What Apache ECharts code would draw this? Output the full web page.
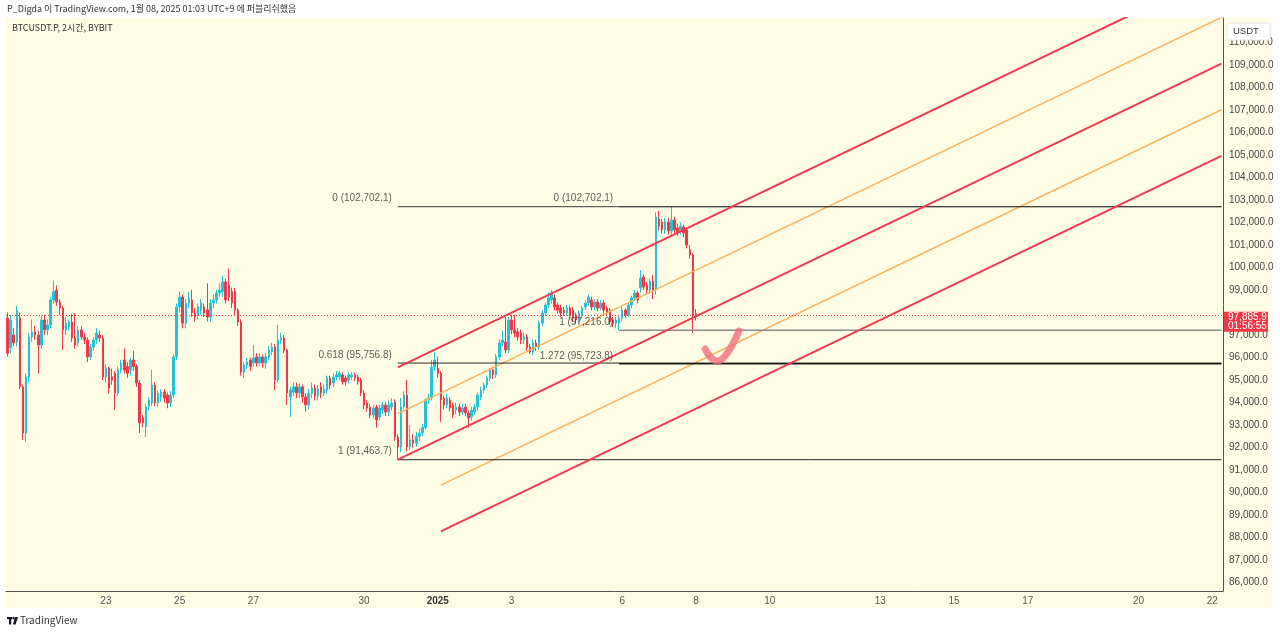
<!DOCTYPE html>
<html>
<head>
<meta charset="utf-8">
<script src="https://cdn.jsdelivr.net/npm/echarts@6/dist/echarts.min.js"></script>
<style>
html,body{margin:0;padding:0;background:#fff;}
#c{width:1280px;height:634px;}
</style>
</head>
<body>
<div id="c"></div>
<script>
// ---------- DATA ----------
// 2-hour slots (UTC+9 display), first slot 2024-12-20 08:00, 396 slots across the visible time axis
const slotStart = Date.UTC(2024, 11, 20, 8);
const slotCount = 396;
const categories = [];
for (let k = 0; k < slotCount; k++) {
  const d = new Date(slotStart + k * 7200000);
  const p = n => String(n).padStart(2, '0');
  categories.push(p(d.getUTCMonth() + 1) + '-' + p(d.getUTCDate()) + ' ' + p(d.getUTCHours()));
}

// time-axis tick labels
const xTickKeys  = ['12-23 00','12-25 00','12-27 00','12-30 00','01-01 00','01-03 00','01-06 00','01-08 00','01-10 00','01-13 00','01-15 00','01-17 00','01-20 00','01-22 00'];
const xTickTexts = ['23','25','27','30','2025','3','6','8','10','13','15','17','20','22'];

// price-axis tick labels (98,000 is hidden by the last-price tag)
const yTicks = [86000,87000,88000,89000,90000,91000,92000,93000,94000,95000,96000,97000,99000,100000,101000,102000,103000,104000,105000,106000,107000,108000,109000,110000];

// BTCUSDT.P 2h candles: [open, close, low, high]
const candles = [
[97760,96200,96050,98000],[96430,97670,96200,97890],[97000,96650,96500,97300],[96700,98100,96500,98300],
[97760,94700,94600,98000],[94700,92650,92340,94800],[92650,95140,92250,95300],[95140,96920,94900,97100],
[96920,97140,96700,97700],[97140,97000,96800,97400],[97000,96560,95300,97200],[96560,97670,96400,97900],
[97670,97230,97000,97900],[97230,97450,97000,97700],[97450,98560,97300,98700],[98560,98930,98400,99420],
[99000,98470,98300,99200],[98470,98200,97900,98600],[98200,97230,96340,98300],[97230,97530,97000,97800],
[97360,97580,97200,97700],[97580,96870,96700,97950],[96870,96560,96400,97980],[96650,97230,96500,97400],
[97230,96920,96800,97400],[96920,96780,96600,97100],[96780,96030,95800,96900],[96030,96470,95900,96600],
[96470,96780,96300,96900],[96780,97090,96600,97300],[97000,96870,96700,97200],[96870,95140,95000,97000],
[95140,95530,94900,95700],[95530,94650,94400,95600],[95140,95000,94800,95500],[95300,94420,93670,95400],
[94420,95450,94300,95600],[95450,95760,95300,95900],[95890,95450,95300,96400],[95600,95300,95100,95800],
[95450,95890,95200,96000],[95890,95600,95400,96300],[95600,94870,94700,95700],[94870,93100,92650,95000],
[93320,93100,92900,93450],[92920,93810,92470,93950],[93810,94120,93650,94250],[93980,94780,93850,95450],
[94780,93980,93850,94900],[93980,94420,93800,94550],[94250,94470,94050,94600],[94470,94200,94000,94600],
[94340,93980,93750,94450],[93980,94340,93800,94500],[94340,96030,94200,96150],[96030,98250,95900,98400],
[98250,98690,98000,98930],[98690,97530,97300,98800],[97530,98420,97300,98600],[98420,98640,98200,98900],
[98560,97980,97800,99000],[97980,97800,97600,98200],[97890,98250,97700,98400],[98110,98420,97900,98600],
[98250,97980,97800,98400],[98110,97800,97600,99300],[97800,98420,97580,98600],[98420,98560,98200,98800],
[98560,98870,98400,99000],[98870,99000,98700,99300],[98930,99360,98700,99650],[99360,98560,98400,99500],
[99220,98690,98500,99950],[98930,98420,98200,99100],[98930,98110,97900,99100],[98110,97580,97400,98200],
[97580,95360,95200,97700],[95360,95670,95090,95800],[95670,95800,95500,96000],[95890,95600,95400,96000],
[95760,95980,95600,96560],[96030,95760,95600,96200],[95760,96030,95600,96200],[96030,95760,95550,96150],
[95760,96030,95500,96200],[96030,96340,95900,96500],[96250,96470,96100,96650],[96470,95000,94560,96600],
[95000,96780,94900,97450],[96780,96870,96600,97100],[96870,96340,96200,97000],[96340,94430,93890,96400],
[94250,94560,93370,94700],[94470,94700,94300,94900],[94700,94430,94200,94900],[94430,94700,94200,94850],
[94700,94250,94000,94800],[94250,93900,93600,94400],[93900,94400,93700,94600],[94400,94650,94200,94900],
[94650,94300,94100,94800],[94300,94600,94100,94800],[94700,94430,94200,94900],[94430,94600,94300,94800],
[94560,95090,94400,95200],[95090,94780,94600,95200],[94870,95140,94700,95300],[95140,95230,95000,95400],
[95140,95300,95000,95420],[95230,94920,94800,95350],[95090,94920,94750,95200],[94990,95230,94850,95350],
[95140,95230,95000,95350],[95230,95090,94950,95330],[95140,94920,94800,95250],[95000,94430,94300,95100],
[94430,93890,93700,94550],[93980,93760,93600,94100],[93800,93450,93300,93950],[93450,93760,93300,93900],
[93800,93230,92890,93900],[93360,93760,93200,93900],[93670,93890,93500,94050],[93890,93580,93400,94000],
[93580,93890,93400,94100],[93800,93980,93650,94200],[94030,92470,92300,94150],[92470,92030,91463.7,92600],
[92030,93810,91800,94200],[93810,94340,93700,94500],[94340,92030,91850,95000],[92030,92340,91900,93000],
[92340,92200,92000,92600],[92200,92500,92050,92700],[92500,92650,92300,92850],[92650,92900,92500,93050],
[92900,94120,92800,94200],[94120,94200,93950,94400],[94200,95580,94100,95900],[95580,95890,95400,96230],
[95530,95300,95100,96050],[95300,94120,93150,95400],[94200,93890,93700,94300],[93890,94200,93750,94400],
[94120,93760,93600,94250],[93890,93450,93300,94000],[93670,93800,93500,94000],[93800,93580,93400,93950],
[93580,93760,93450,93950],[93800,93540,93400,93950],[93540,93320,92890,93650],[93360,93670,93200,93800],
[93580,93800,93450,93950],[93800,94340,93650,94450],[94250,94560,94100,94700],[94560,94780,94400,94900],
[94780,95090,94650,95200],[95090,95450,94950,95550],[95450,95230,95050,95600],[95230,96030,95100,96150],
[96030,96650,95900,96800],[96650,96780,96500,97200],[96690,96340,96200,97820],[96340,97670,96200,97800],
[97670,97230,97050,97900],[97230,97090,96900,97900],[97140,96920,96750,97300],[97090,96780,96600,97250],
[96780,96920,96600,97100],[96920,96430,96300,97050],[96470,96250,96150,96600],[96250,96650,96100,96800],
[96650,96470,96300,96800],[96470,97530,96350,97650],[97530,97980,97400,98100],[97980,98340,97850,98450],
[98340,98650,98200,98900],[98560,98870,98400,99000],[98650,98250,98100,98800],[98340,98110,97950,98450],
[98200,97980,97800,98350],[98110,97980,97850,98250],[97980,98200,97850,98350],[98200,97890,97750,98300],
[98110,97760,97600,98250],[97890,97670,97500,98000],[97670,97980,97550,98100],[97890,98200,97750,98300],
[98250,98420,98100,98550],[98420,98690,98300,98800],[98560,98250,98100,98700],[98250,98470,98100,98600],
[98470,98200,98050,98600],[98200,98420,98100,98550],[98420,98110,97950,98550],[98200,97980,97850,98300],
[98110,97580,97450,98200],[97670,97530,97350,97800],[97530,97670,97300,97800],[97530,97760,97216.0,97900],
[97760,98110,97600,98250],[98110,97890,97750,98200],[97890,98340,97800,98450],[98340,98650,98200,98750],
[98650,98870,98500,99000],[98870,98560,98400,98950],[99090,99535,98900,99890],[99580,99135,99000,99700],
[99220,99000,98850,99350],[99000,99400,98850,99500],[99400,99000,98600,99670],[99000,102250,98800,102450],
[102160,101845,101650,102510],[102020,101670,101500,102150],[101670,102020,101500,102200],[102020,101620,101450,102200],
[101620,102110,101450,102702.1],[102110,101670,101500,102250],[101760,101580,101400,101950],[101580,101845,101450,102000],
[101800,101530,101350,101900],[101670,101000,100850,101750],[100780,100560,100400,101000],[100560,97850,97090,100650],
[97950,97885.9,97650,98150]
];
const lastPrice = 97885.9;
const lastCountdown = '01:56:55';

// Fibonacci levels (two tools)
const fibA = { startKey: '12-30 22', levels: [102702.1, 95756.8, 91463.7], texts: ['0 (102,702.1)', '0.618 (95,756.8)', '1 (91,463.7)'] };
const fibB = { startKey: '01-05 22', levels: [102702.1, 97216.0, 95723.8], texts: ['0 (102,702.1)', '1 (97,216.0)', '1.272 (95,723.8)'] };

// parallel channel lines: [startKey, startPrice, endKey, endPrice]
const channelRed = [
  ['12-30 22', 95564, '01-22 06', 113160],
  ['12-30 22', 91464, '01-22 06', 109060],
  ['01-01 02', 88283, '01-22 06', 104960]
];
const channelOrange = [
  ['12-30 22', 93514, '01-22 06', 111110],
  ['01-01 02', 90333, '01-22 06', 107010]
];
// hand-drawn check mark anchors [key, price]
const checkMark = [['01-08 06', 96380], ['01-08 10', 95980], ['01-08 14', 95850], ['01-09 04', 97180]];

// ---------- CHART ----------
const yMin = 85632, yMax = 111084;
const idx = k => categories.indexOf(k);
const tickMap = new Map(xTickKeys.map((k, n) => [k, xTickTexts[n]]));
const numFont = '"Liberation Sans Narrow", "Liberation Sans", Arial, sans-serif';
const mixFont = '"Liberation Sans Narrow", "Noto Sans CJK KR", sans-serif';
const RED = '#f0384b', CYAN = '#26c3d6', ORANGE = '#f9b25a';

const series = [];
series.push({
  type: 'candlestick', data: candles, barWidth: 2, z: 3,
  itemStyle: { color: CYAN, color0: RED, borderColor: CYAN, borderColor0: RED, borderWidth: 1 },
  markLine: { symbol: 'none', silent: true, label: { show: false },
    lineStyle: { color: RED, type: [1, 2], width: 1 }, data: [{ yAxis: lastPrice }] }
});
channelRed.forEach(c => series.push({ type: 'line', symbol: 'none', silent: true, clip: true, z: 5,
  lineStyle: { color: '#ee3a4e', width: 2 }, data: [[idx(c[0]), c[1]], [idx(c[2]), c[3]]] }));
channelOrange.forEach(c => series.push({ type: 'line', symbol: 'none', silent: true, clip: true, z: 4,
  lineStyle: { color: ORANGE, width: 1.5 }, data: [[idx(c[0]), c[1]], [idx(c[2]), c[3]]] }));

function fibSeries(f, styles) {
  const s0 = idx(f.startKey), e = slotCount - 1;
  f.levels.forEach((v, n) => series.push({ type: 'line', symbol: 'none', silent: true, z: 4,
    lineStyle: styles[n], data: [[s0, v], [e, v]] }));
  series.push({ type: 'scatter', symbolSize: 0, silent: true, z: 6,
    data: f.levels.map((v, n) => ({ value: [s0, v], label: { show: true, position: 'left', distance: 6,
      offset: [0, -8], formatter: f.texts[n], color: '#333', fontSize: 10, fontFamily: numFont } })) });
}
fibSeries(fibA, [{ color: '#3a3a3a', width: 1 }, { color: '#2a2a2a', width: 1 }, { color: '#2a2a2a', width: 1 }]);
fibSeries(fibB, [{ color: '#3a3a3a', width: 1 }, { color: '#8c8c8c', width: 1.5 }, { color: '#1e1e1e', width: 1.5 }]);

series.push({ type: 'line', symbol: 'none', silent: true, smooth: 0.4, z: 7,
  lineStyle: { color: 'rgba(240,110,122,0.8)', width: 7, cap: 'round', join: 'round' },
  data: checkMark.map(p => [idx(p[0]), p[1]]) });

const option = {
  backgroundColor: '#ffffff',
  animation: false,
  grid: { left: 6, right: 57, top: 18, bottom: 43, containLabel: false },
  xAxis: {
    type: 'category', data: categories, boundaryGap: true,
    axisLine: { lineStyle: { color: '#555', width: 1 } },
    axisTick: { show: false }, splitLine: { show: false },
    axisLabel: {
      interval: (i, v) => tickMap.has(v),
      formatter: v => (tickMap.get(v) === '2025' ? '{b|2025}' : tickMap.get(v)),
      color: '#555', fontSize: 10, margin: 5, fontFamily: numFont,
      rich: { b: { fontWeight: 'bold', color: '#333', fontSize: 10, fontFamily: numFont } }
    }
  },
  yAxis: {
    type: 'value', position: 'right', min: yMin, max: yMax,
    axisLine: { show: true, lineStyle: { color: '#555', width: 1 } },
    axisTick: { show: false }, splitLine: { show: false },
    axisLabel: { customValues: yTicks, color: '#444', fontSize: 10, margin: 6, fontFamily: numFont,
      formatter: v => v.toLocaleString('en-US', { minimumFractionDigits: 1, maximumFractionDigits: 1 }) }
  },
  series: series
};

const chart = echarts.init(document.getElementById('c'), null, { renderer: 'canvas', width: 1280, height: 634 });
chart.setOption(option);

const py = chart.convertToPixel({ yAxisIndex: 0 }, lastPrice);
chart.setOption({
  graphic: [
    { type: 'rect', z: -1, silent: true, shape: { x: 6, y: 18, width: 1266, height: 590 }, style: { fill: '#fffce6' } },
    { type: 'text', z: 10, left: 7, top: 4, style: { text: 'P_Digda 이 TradingView.com, 1월 08, 2025 01:03 UTC+9 에 퍼블리쉬했음', fill: '#333', font: '9px ' + mixFont } },
    { type: 'text', z: 10, left: 12, top: 23, style: { text: 'BTCUSDT.P, 2시간, BYBIT', fill: '#333', font: '9px ' + mixFont } },
    { type: 'rect', z: 20, shape: { x: 1227, y: 23, width: 43, height: 17, r: 2 }, style: { fill: '#ffffff', stroke: '#e6e6e6' } },
    { type: 'text', z: 21, x: 1233, y: 31.5, style: { text: 'USDT', fill: '#333', font: '9.5px ' + numFont, verticalAlign: 'middle' } },
    { type: 'rect', z: 20, shape: { x: 1224, y: py - 3.5, width: 44, height: 20 }, style: { fill: '#f23645' } },
    { type: 'text', z: 21, x: 1228, y: py + 2, style: { text: '97,885.9', fill: '#fff', font: '10px ' + numFont, verticalAlign: 'middle' } },
    { type: 'text', z: 21, x: 1228, y: py + 11.5, style: { text: lastCountdown, fill: '#fff', font: '10px ' + numFont, verticalAlign: 'middle' } },
    { type: 'rect', z: 10, shape: { x: 7, y: 617, width: 5, height: 2.2 }, style: { fill: '#131722' } },
    { type: 'rect', z: 10, shape: { x: 9, y: 617, width: 2.2, height: 7.5 }, style: { fill: '#131722' } },
    { type: 'circle', z: 10, shape: { cx: 13.6, cy: 618.2, r: 1.3 }, style: { fill: '#131722' } },
    { type: 'polygon', z: 10, shape: { points: [[15.2, 617], [18, 617], [15.6, 624.5], [12.9, 624.5]] }, style: { fill: '#131722' } },
    { type: 'text', z: 10, left: 20, top: 615, style: { text: 'TradingView', fill: '#333', font: '10px ' + mixFont } }
  ]
});
</script>
</body>
</html>
